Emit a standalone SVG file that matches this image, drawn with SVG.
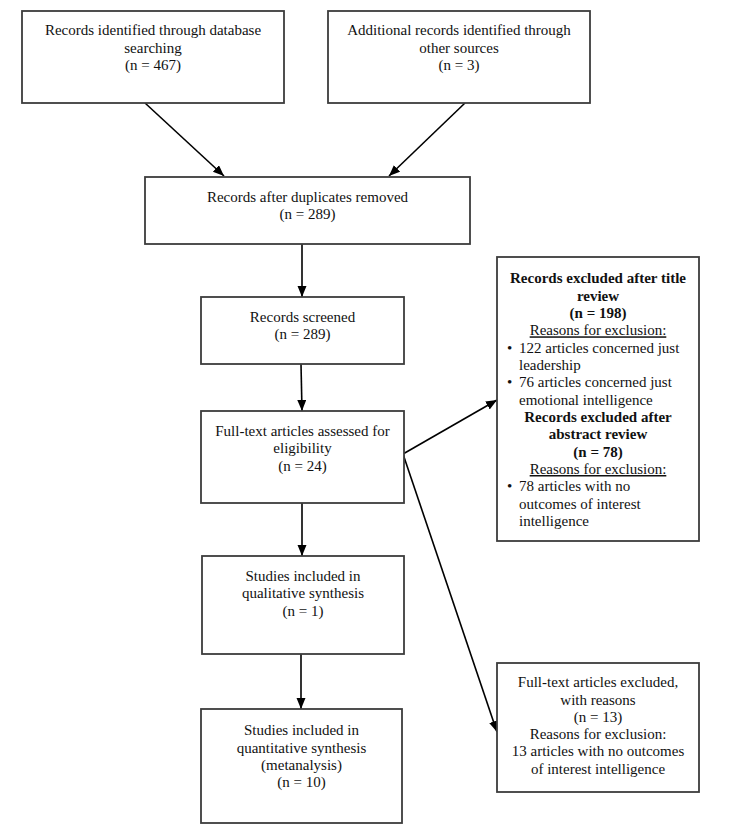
<svg xmlns="http://www.w3.org/2000/svg" width="736" height="835" viewBox="0 0 736 835">
<style>
  .box { fill: #ffffff; stroke: #3c3c3c; stroke-width: 1.8; }
  text { font-family: "Liberation Serif", "Times New Roman", serif; font-size: 15px; fill: #111111; }
  .c { text-anchor: middle; }
  .b { font-weight: bold; }
  .u { text-decoration: underline; }
  .conn { stroke: #000000; stroke-width: 1.6; fill: none; marker-end: url(#arrow); }
</style>
<defs>
  <marker id="arrow" markerUnits="userSpaceOnUse" markerWidth="12" markerHeight="10" refX="11" refY="4.5" orient="auto">
    <path d="M0,0 L11,4.5 L0,9 z" fill="#000000"/>
  </marker>
</defs>
<rect width="736" height="835" fill="#ffffff"/>

<g id="connectors">
  <line class="conn" x1="145" y1="103" x2="224" y2="176"/>
  <line class="conn" x1="465" y1="103" x2="389" y2="176"/>
  <line class="conn" x1="302" y1="244" x2="302" y2="297"/>
  <line class="conn" x1="301" y1="364" x2="302" y2="411"/>
  <line class="conn" x1="302" y1="503" x2="302" y2="556"/>
  <line class="conn" x1="301" y1="654" x2="301" y2="709"/>
  <line class="conn" x1="403" y1="454" x2="497" y2="400"/>
  <line class="conn" x1="403" y1="454" x2="497" y2="732"/>
</g>

<g id="db-search">
  <rect class="box" x="22" y="11" width="262" height="92"/>
  <text class="c" x="153" y="35">Records identified through database</text>
  <text class="c" x="153" y="52.5">searching</text>
  <text class="c" x="153" y="70">(n = 467)</text>
</g>

<g id="other-sources">
  <rect class="box" x="328" y="11" width="262" height="92"/>
  <text class="c" x="459" y="35">Additional records identified through</text>
  <text class="c" x="459" y="52.5">other sources</text>
  <text class="c" x="459" y="70">(n = 3)</text>
</g>

<g id="duplicates-removed">
  <rect class="box" x="145" y="177" width="325" height="67"/>
  <text class="c" x="307.5" y="201.5">Records after duplicates removed</text>
  <text class="c" x="307.5" y="219">(n = 289)</text>
</g>

<g id="screened">
  <rect class="box" x="201" y="297" width="203" height="67"/>
  <text class="c" x="302.5" y="321.5">Records screened</text>
  <text class="c" x="302.5" y="339">(n = 289)</text>
</g>

<g id="eligibility">
  <rect class="box" x="201" y="411" width="203" height="92"/>
  <text class="c" x="302.5" y="435.5">Full-text articles assessed for</text>
  <text class="c" x="302.5" y="453">eligibility</text>
  <text class="c" x="302.5" y="470.5">(n = 24)</text>
</g>

<g id="qualitative">
  <rect class="box" x="202" y="556" width="202" height="98"/>
  <text class="c" x="303" y="580.5">Studies included in</text>
  <text class="c" x="303" y="598">qualitative synthesis</text>
  <text class="c" x="303" y="615.5">(n = 1)</text>
</g>

<g id="quantitative">
  <rect class="box" x="201" y="709" width="201" height="114"/>
  <text class="c" x="301.5" y="735">Studies included in</text>
  <text class="c" x="301.5" y="752.5">quantitative synthesis</text>
  <text class="c" x="301.5" y="770">(metanalysis)</text>
  <text class="c" x="301.5" y="787">(n = 10)</text>
</g>

<g id="excluded-records">
  <rect class="box" x="497" y="257" width="202" height="284"/>
  <text class="c b" x="598" y="283.3">Records excluded after title</text>
  <text class="c b" x="598" y="300.6">review</text>
  <text class="c b" x="598" y="318">(n = 198)</text>
  <text class="c u" x="598" y="335.3">Reasons for exclusion:</text>
  <text x="507" y="352.6">•</text>
  <text x="519" y="352.6">122 articles concerned just</text>
  <text x="519" y="370">leadership</text>
  <text x="507" y="387.3">•</text>
  <text x="519" y="387.3">76 articles concerned just</text>
  <text x="519" y="404.7">emotional intelligence</text>
  <text class="c b" x="598" y="422">Records excluded after</text>
  <text class="c b" x="598" y="439.4">abstract review</text>
  <text class="c b" x="598" y="456.7">(n = 78)</text>
  <text class="c u" x="598" y="474">Reasons for exclusion:</text>
  <text x="507" y="491.4">•</text>
  <text x="519" y="491.4">78 articles with no</text>
  <text x="519" y="508.7">outcomes of interest</text>
  <text x="519" y="526">intelligence</text>
</g>

<g id="excluded-fulltext">
  <rect class="box" x="497" y="663" width="202" height="129"/>
  <text class="c" x="598" y="687.3">Full-text articles excluded,</text>
  <text class="c" x="598" y="704.5">with reasons</text>
  <text class="c" x="598" y="721.8">(n = 13)</text>
  <text class="c" x="598" y="739">Reasons for exclusion:</text>
  <text class="c" x="598" y="756.3">13 articles with no outcomes</text>
  <text class="c" x="598" y="773.5">of interest intelligence</text>
</g>
</svg>
